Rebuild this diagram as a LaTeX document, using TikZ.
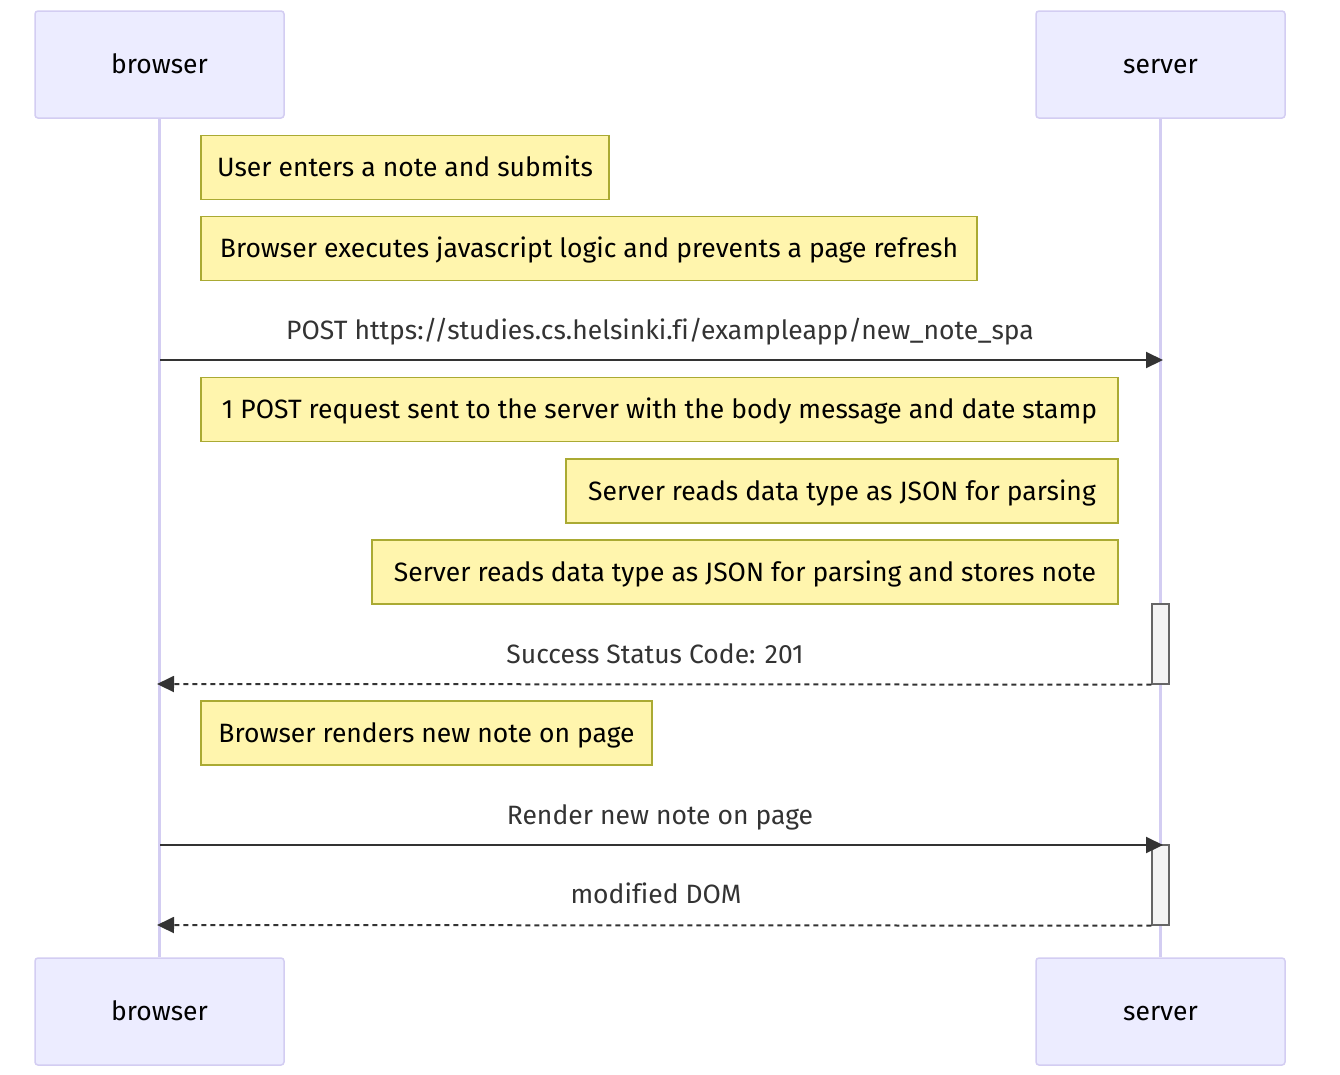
\documentclass[tikz,border=0pt]{standalone}
\usepackage{fontspec}
\setmainfont[Ligatures=NoCommon]{Fira Sans}
\usetikzlibrary{arrows.meta}
\definecolor{actfill}{HTML}{ECECFF}
\definecolor{actline}{HTML}{D3CDF2}
\definecolor{notefill}{HTML}{FFF5AD}
\definecolor{noteline}{HTML}{AAAA33}
\definecolor{msgcol}{HTML}{333333}
\definecolor{actvfill}{HTML}{F4F4F4}
\definecolor{actvline}{HTML}{666666}
\tikzset{
  txt/.style={font=\fontsize{26.5}{30}\selectfont, text height=20pt, text depth=2pt},
  actor/.style={draw=actline, fill=actfill, line width=1.5pt, rounded corners=3pt,
    minimum width=249pt, minimum height=107pt, inner sep=0pt, txt, text=black},
  lifeline/.style={draw=actline, line width=3pt},
  notebox/.style={draw=noteline, fill=notefill, line width=1.3pt, inner sep=0pt,
    minimum height=64pt, txt, text=black},
  msglabel/.style={txt, text=msgcol, inner sep=0pt},
  msg/.style={draw=msgcol, line width=2pt, -{Triangle[length=17pt,width=16pt]}},
  reply/.style={msg, dash pattern=on 5pt off 4pt},
  activation/.style={draw=actvline, fill=actvfill, line width=1.3pt,
    minimum width=17pt, minimum height=80pt, inner sep=0pt}
}
\begin{document}
\begin{tikzpicture}[x=1pt,y=-1pt]
\useasboundingbox (0,0) rectangle (1340,1074);
% actors
\node[actor] (bt) at (159.5,64.5) {browser};
\node[actor] (st) at (1160.5,64.5) {server};
\node[actor] (bb) at (159.5,1011.5) {browser};
\node[actor] (sb) at (1160.5,1011.5) {server};
% lifelines
\draw[lifeline] (bt.south) -- (bb.north);
\draw[lifeline] (st.south) -- (sb.north);
% notes
\node[notebox, minimum width=408pt] (n1) at (405,167.5) {User enters a note and submits};
\node[notebox, minimum width=776pt] (n2) at (589,248.5) {Browser executes javascript logic and prevents a page refresh};
\node[notebox, minimum width=917pt] (n3) at (659.5,409.5) {1 POST request sent to the server with the body message and date stamp};
\node[notebox, minimum width=552pt] (n4) at (842,491) {Server reads data type as JSON for parsing};
\node[notebox, minimum width=746pt] (n5) at (745,572) {Server reads data type as JSON for parsing and stores note};
\node[notebox, minimum width=451pt] (n6) at (426.5,733) {Browser renders new note on page};
% activations
\node[activation] (a1) at (1160.5,644) {};
\node[activation] (a2) at (1160.5,885) {};
% message anchor coordinates
\coordinate (m1s) at (160,360);
\coordinate (m1e) at (1163,360);
\coordinate (m2e) at (157,684);
\coordinate (m3s) at (160,845);
\coordinate (m3e) at (1163,845);
\coordinate (m4e) at (157,925);
% messages
\node[msglabel] (l1) at (660,330) {POST https://studies.cs.helsinki.fi/exampleapp/new\_note\_spa};
\draw[msg] (m1s) -- (m1e);
\node[msglabel] (l2) at (655,654) {Success Status Code: 201};
\draw[reply] (a1.south west) -- (m2e);
\node[msglabel] (l3) at (660,815) {Render new note on page};
\draw[msg] (m3s) -- (m3e);
\node[msglabel] (l4) at (656,894) {modified DOM};
\draw[reply] (a2.south west) -- (m4e);
\end{tikzpicture}
\end{document}
